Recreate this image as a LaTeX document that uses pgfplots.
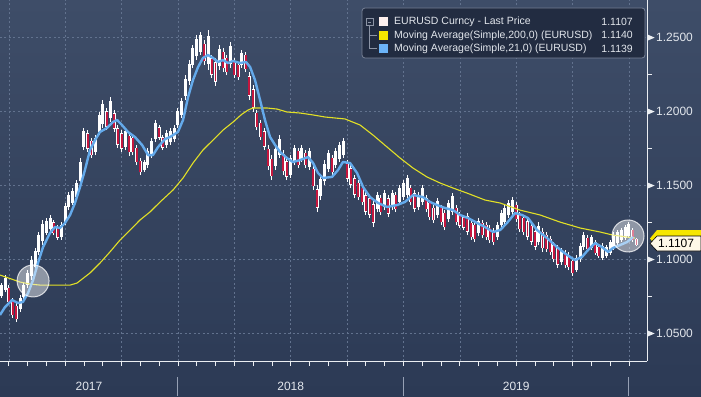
\documentclass[border=0pt]{standalone}
\usepackage{fontspec}
\setmainfont{Liberation Sans}
\usepackage{pgfplots}
\usepackage{pgfplotstable}
\pgfplotsset{compat=1.18}
\definecolor{bgtop}{RGB}{62,77,104}
\definecolor{bgbot}{RGB}{44,58,85}
\definecolor{gridc}{RGB}{98,114,142}
\definecolor{axc}{RGB}{235,238,242}
\definecolor{labc}{RGB}{226,230,236}
\definecolor{candw}{RGB}{255,255,255}
\definecolor{candr}{RGB}{196,22,62}
\definecolor{ma200c}{RGB}{226,224,38}
\definecolor{ma21c}{RGB}{100,170,235}
\definecolor{legbg}{RGB}{34,44,65}
\definecolor{legbd}{RGB}{120,130,150}
\definecolor{treec}{RGB}{140,148,165}
\definecolor{legw}{RGB}{253,240,238}
\definecolor{legy}{RGB}{246,230,0}
\definecolor{legb}{RGB}{108,180,248}
\definecolor{sepc}{RGB}{150,160,180}
\definecolor{tagc}{RGB}{255,248,232}

\pgfplotstableread{
x lo hi d
2.6 1.0738 1.0839 0
2.8 1.0778 1.0893 0
3.0 1.0690 1.0825 1
3.2 1.0602 1.0738 1
3.4 1.0575 1.0704 1
3.6 1.0643 1.0758 0
3.8 1.0724 1.0846 0
4.0 1.0805 1.0927 0
4.2 1.0859 1.1021 0
4.4 1.0927 1.1076 0
4.6 1.1028 1.1184 0
4.8 1.1096 1.1265 0
5.0 1.1163 1.1278 0
5.2 1.1184 1.1299 0
5.4 1.1163 1.1265 1
5.6 1.1130 1.1231 1
5.8 1.1130 1.1251 0
6.0 1.1231 1.1380 0
6.2 1.1332 1.1454 0
6.4 1.1366 1.1481 0
6.6 1.1400 1.1535 0
6.8 1.1501 1.1684 0
7.0 1.1738 1.1887 0
7.2 1.1725 1.1873 1
7.4 1.1684 1.1819 1
7.6 1.1704 1.1839 0
7.8 1.1839 1.1995 0
8.0 1.1887 1.2076 0
8.2 1.1873 1.2022 1
8.4 1.1927 1.2096 0
8.6 1.1860 1.2008 1
8.8 1.1752 1.1907 1
9.0 1.1725 1.1873 1
9.2 1.1738 1.1887 0
9.4 1.1697 1.1860 1
9.6 1.1704 1.1839 1
9.8 1.1637 1.1772 1
10.0 1.1569 1.1684 1
10.2 1.1589 1.1670 0
10.4 1.1616 1.1752 0
10.6 1.1684 1.1819 0
10.8 1.1792 1.1941 0
11.0 1.1806 1.1907 1
11.2 1.1738 1.1839 1
11.4 1.1752 1.1873 0
11.6 1.1772 1.1887 0
11.8 1.1792 1.1907 0
12.0 1.1887 1.2022 0
12.2 1.1954 1.2090 0
12.4 1.2076 1.2245 0
12.6 1.2177 1.2346 0
12.8 1.2292 1.2448 0
13.0 1.2346 1.2515 0
13.2 1.2380 1.2536 0
13.4 1.2313 1.2482 1
13.6 1.2279 1.2549 0
13.8 1.2225 1.2380 1
14.0 1.2171 1.2360 1
14.2 1.2279 1.2448 0
14.4 1.2265 1.2428 1
14.6 1.2245 1.2380 1
14.8 1.2292 1.2468 0
15.0 1.2225 1.2360 1
15.2 1.2211 1.2333 1
15.4 1.2292 1.2414 0
15.6 1.2265 1.2401 1
15.8 1.2076 1.2265 1
16.0 1.1995 1.2177 1
16.2 1.1873 1.2008 1
16.4 1.1806 1.1941 1
16.6 1.1738 1.1887 1
16.8 1.1603 1.1772 1
17.0 1.1535 1.1704 1
17.2 1.1603 1.1772 0
17.4 1.1684 1.1839 0
17.6 1.1569 1.1738 1
17.8 1.1535 1.1684 1
18.0 1.1549 1.1704 0
18.2 1.1637 1.1772 0
18.4 1.1616 1.1752 1
18.6 1.1657 1.1772 0
18.8 1.1616 1.1738 1
19.0 1.1603 1.1752 0
19.2 1.1468 1.1637 1
19.4 1.1319 1.1501 1
19.6 1.1400 1.1569 0
19.8 1.1501 1.1670 0
20.0 1.1589 1.1738 0
20.2 1.1569 1.1704 1
20.4 1.1616 1.1752 0
20.6 1.1657 1.1792 0
20.8 1.1684 1.1819 0
21.0 1.1522 1.1670 1
21.2 1.1481 1.1637 1
21.4 1.1413 1.1569 1
21.6 1.1400 1.1535 1
21.8 1.1366 1.1501 1
22.0 1.1299 1.1454 1
22.2 1.1278 1.1434 1
22.4 1.1218 1.1400 1
22.6 1.1319 1.1454 0
22.8 1.1299 1.1434 1
23.0 1.1332 1.1468 0
23.2 1.1285 1.1434 1
23.4 1.1332 1.1468 0
23.6 1.1319 1.1454 1
23.8 1.1366 1.1501 0
24.0 1.1400 1.1535 0
24.2 1.1413 1.1569 0
24.4 1.1366 1.1501 1
24.6 1.1319 1.1468 1
24.8 1.1332 1.1454 0
25.0 1.1366 1.1501 0
25.2 1.1319 1.1434 1
25.4 1.1265 1.1400 1
25.6 1.1245 1.1366 1
25.8 1.1278 1.1413 0
26.0 1.1231 1.1366 1
26.2 1.1197 1.1332 1
26.4 1.1251 1.1400 0
26.6 1.1299 1.1447 0
26.8 1.1231 1.1366 1
27.0 1.1211 1.1319 1
27.2 1.1197 1.1299 1
27.4 1.1163 1.1312 1
27.6 1.1130 1.1265 1
27.8 1.1116 1.1251 1
28.0 1.1157 1.1278 0
28.2 1.1143 1.1265 1
28.4 1.1130 1.1251 1
28.6 1.1109 1.1231 1
28.8 1.1096 1.1211 1
29.0 1.1130 1.1251 0
29.2 1.1211 1.1332 0
29.4 1.1231 1.1366 0
29.6 1.1278 1.1400 0
29.8 1.1299 1.1420 0
30.0 1.1251 1.1387 1
30.2 1.1184 1.1319 1
30.4 1.1163 1.1299 1
30.6 1.1130 1.1278 1
30.8 1.1096 1.1251 1
31.0 1.1062 1.1211 1
31.2 1.1096 1.1251 0
31.4 1.1049 1.1211 1
31.6 1.1049 1.1184 1
31.8 1.1028 1.1157 1
32.0 1.0981 1.1116 1
32.2 1.0940 1.1096 1
32.4 1.0961 1.1076 0
32.6 1.0940 1.1062 1
32.8 1.0927 1.1049 1
33.0 1.0886 1.1008 1
33.2 1.0913 1.1028 0
33.4 1.0981 1.1109 0
33.6 1.1062 1.1184 0
33.8 1.1049 1.1163 1
34.0 1.1062 1.1163 0
34.2 1.1028 1.1130 1
34.4 1.1008 1.1096 1
34.6 1.0994 1.1109 0
34.8 1.1008 1.1096 0
35.0 1.1028 1.1130 0
35.2 1.1062 1.1184 0
35.4 1.1096 1.1197 0
35.6 1.1116 1.1211 0
35.8 1.1130 1.1231 0
36.0 1.1143 1.1251 0
36.2 1.1116 1.1211 1
36.4 1.1089 1.1143 1
}\candles

\newcommand{\tri}{\tikz[baseline=-0.6ex]\fill[axc] (0,-3pt) -- (7pt,0) -- (0,3pt) -- cycle;}

\begin{document}
\begin{tikzpicture}
\shade[top color=bgtop, bottom color=bgbot] (0,0) rectangle (701pt,-396pt);
\begin{axis}[
  at={(0,0)}, anchor=north west,
  width=647pt, height=361pt, scale only axis,
  xmin=2.53, xmax=36.96, ymin=1.0312, ymax=1.2752,
  axis x line*=bottom, axis y line*=right,
  axis line style={draw=axc, line width=0.8pt},
  xtick={3,6,...,36}, xticklabels={},
  minor xtick={3,4,...,36},
  ytick={1.05,1.10,1.15,1.20,1.25},
  minor ytick={1.075,1.125,1.175,1.225},
  xmajorgrids, ymajorgrids,
  major grid style={dash pattern=on 2pt off 2.5pt, draw=gridc, line width=0.55pt},
  major tick length=0pt, minor tick length=5pt, tick align=outside,
  tick style={draw=axc, line width=0.8pt},
  /pgf/number format/assume math mode=true,
  yticklabel style={font=\fontsize{12}{14}\selectfont, text=labc, anchor=west, inner sep=0pt, xshift=0.5pt},
  yticklabel={\tri\hspace{1.5pt}\pgfmathprintnumber[fixed,fixed zerofill,precision=4]{\tick}},
]
% wicks
\addplot[draw=none, mark=none,
  error bars/.cd, y dir=plus, y explicit, error mark=none,
  error bar style={draw=candw, line width=1pt}]
  table[x=x, y=lo, y error plus expr=\thisrow{hi}-\thisrow{lo}] {\candles};
% bodies
\addplot[draw=none, mark=none,
  error bars/.cd, y dir=plus, y explicit, error mark=none,
  error bar style={draw=candw, line width=3pt}]
  table[x=x, y expr={\thisrow{lo}+0.15*(\thisrow{hi}-\thisrow{lo})}, y error plus expr={0.7*(\thisrow{hi}-\thisrow{lo})}] {\candles};
\addplot[draw=none, mark=none,
  error bars/.cd, y dir=plus, y explicit, error mark=none,
  error bar style={draw=candr, line width=1.9pt}]
  table[x=x, y expr={\thisrow{d}>0.5 ? \thisrow{lo}+0.17*(\thisrow{hi}-\thisrow{lo}) : 0.9}, y error plus expr={0.66*(\thisrow{hi}-\thisrow{lo})}] {\candles};
% 200-day moving average
\addplot[ma200c, line width=1.1pt] coordinates {
(2.53,1.0893) (3.59,1.0846) (4.13,1.0832) (4.66,1.0825) (6.26,1.0825) (6.63,1.0839)
(7.32,1.0907) (7.85,1.0974) (8.38,1.1049) (8.92,1.1130) (9.45,1.1197) (9.98,1.1265)
(10.51,1.1319) (11.05,1.1387) (11.74,1.1468) (12.27,1.1549) (12.80,1.1650) (13.33,1.1738)
(13.87,1.1806) (14.40,1.1873) (14.93,1.1927) (15.41,1.1981) (15.73,1.2008) (15.99,1.2022)
(16.74,1.2022) (17.27,1.2015) (17.80,1.1995) (18.50,1.1988) (19.19,1.1975) (19.83,1.1961)
(20.89,1.1948) (21.69,1.1907) (22.38,1.1839) (23.13,1.1758) (23.82,1.1684) (24.51,1.1616)
(25.25,1.1556) (25.95,1.1515) (26.64,1.1481) (27.38,1.1447) (28.34,1.1400) (29.14,1.1380)
(30.20,1.1332) (31.27,1.1299) (32.33,1.1251) (33.40,1.1211) (34.46,1.1184) (35.15,1.1163)
(35.90,1.1150) (36.32,1.1143)};
% 21-day moving average
\addplot[ma21c, line width=2.4pt, line join=round] coordinates {
(2.53,1.0623) (2.80,1.0677) (3.17,1.0724) (3.49,1.0704) (3.75,1.0711) (4.02,1.0771)
(4.29,1.0859) (4.55,1.0974) (4.82,1.1082) (5.19,1.1177) (5.46,1.1218) (5.72,1.1211)
(5.99,1.1245) (6.26,1.1299) (6.52,1.1380) (6.79,1.1488) (7.05,1.1603) (7.32,1.1738)
(7.59,1.1806) (7.85,1.1860) (8.22,1.1887) (8.54,1.1927) (8.76,1.1941) (9.02,1.1907)
(9.34,1.1860) (9.71,1.1826) (10.09,1.1772) (10.41,1.1704) (10.67,1.1704) (10.94,1.1758)
(11.31,1.1812) (11.58,1.1826) (12.00,1.1860) (12.27,1.1941) (12.54,1.2096) (12.80,1.2211)
(13.07,1.2299) (13.33,1.2360) (13.60,1.2380) (13.87,1.2360) (14.13,1.2333) (14.40,1.2346)
(14.66,1.2326) (14.93,1.2340) (15.30,1.2326) (15.62,1.2333) (15.84,1.2299) (16.10,1.2211)
(16.37,1.2076) (16.63,1.1941) (16.90,1.1826) (17.17,1.1772) (17.43,1.1725) (17.80,1.1684)
(18.12,1.1657) (18.50,1.1670) (18.92,1.1691) (19.19,1.1650) (19.45,1.1583) (19.72,1.1549)
(20.20,1.1556) (20.52,1.1603) (20.78,1.1657) (21.16,1.1650) (21.53,1.1583) (21.85,1.1488)
(22.22,1.1420) (22.65,1.1380) (23.13,1.1353) (23.66,1.1366) (24.08,1.1387) (24.51,1.1434)
(25.04,1.1420) (25.41,1.1387) (25.79,1.1366) (26.21,1.1346) (26.64,1.1332) (27.01,1.1299)
(27.44,1.1278) (27.92,1.1245) (28.34,1.1218) (28.77,1.1184) (29.14,1.1197) (29.51,1.1245)
(29.94,1.1312) (30.31,1.1299) (30.63,1.1278) (31.11,1.1197) (31.64,1.1143) (32.17,1.1082)
(32.71,1.1028) (33.13,1.0994) (33.50,1.1015) (33.82,1.1062) (34.20,1.1109) (34.57,1.1082)
(34.89,1.1049) (35.15,1.1076) (35.53,1.1096) (35.90,1.1116) (36.22,1.1150)};
% highlight circles
\addplot[only marks, mark=*, mark size=16pt,
  mark options={fill=white, fill opacity=0.45, draw=white, draw opacity=0.75, line width=1pt}]
  coordinates {(4.29,1.0853) (35.95,1.1157)};
\end{axis}
\begin{scope}[x=1pt,y=-1pt]
% year separators and labels
\draw[sepc, line width=1pt] (177.9,377) -- (177.9,396);
\draw[sepc, line width=1pt] (403.4,377) -- (403.4,396);
\draw[sepc, line width=1pt] (628.9,377) -- (628.9,396);
\node[font=\fontsize{12}{14}\selectfont, text=labc] at (89,386) {2017};
\node[font=\fontsize{12}{14}\selectfont, text=labc] at (290.7,386) {2018};
\node[font=\fontsize{12}{14}\selectfont, text=labc] at (516.2,386) {2019};
% last value tags
\fill[legy] (650,238.5) -- (657,230) -- (701,230) -- (701,247) -- (657,247) -- cycle;
\filldraw[fill=tagc, draw=black, line width=0.6pt] (650,243.5) -- (657,236) -- (701,236) -- (701,251) -- (657,251) -- cycle;
\node[font=\fontsize{12}{14}\selectfont, text=black, anchor=west, inner sep=0pt] at (658,243.8) {1.1107};
% legend
\filldraw[fill=legbg, draw=legbd, line width=0.8pt, rounded corners=3pt] (362,8) rectangle (645,58);
\draw[treec, line width=0.6pt] (366,18.5) rectangle (373,25.5);
\draw[treec, line width=0.6pt] (367.8,22) -- (371.2,22);
\draw[treec, line width=0.6pt] (369.5,25.5) -- (369.5,48.6) -- (377,48.6);
\draw[treec, line width=0.6pt] (369.5,35.3) -- (377,35.3);
\fill[legw] (379,17.5) rectangle (388,26.5);
\fill[legy] (379,30.8) rectangle (388,39.8);
\fill[legb] (379,44.1) rectangle (388,53.1);
\begin{scope}[every node/.style={font=\fontsize{10.5}{12}\selectfont, text=labc, inner sep=0pt}]
\node[anchor=west] at (394,22) {EURUSD Curncy - Last Price};
\node[anchor=west] at (394,35.3) {Moving Average(Simple,200,0) (EURUSD)};
\node[anchor=west] at (394,48.6) {Moving Average(Simple,21,0) (EURUSD)};
\node[anchor=east] at (633,22) {1.1107};
\node[anchor=east] at (633,35.3) {1.1140};
\node[anchor=east] at (633,48.6) {1.1139};
\end{scope}
\end{scope}
\pgfresetboundingbox
\useasboundingbox (0,0) rectangle (701pt,-396pt);
\end{tikzpicture}
\end{document}
